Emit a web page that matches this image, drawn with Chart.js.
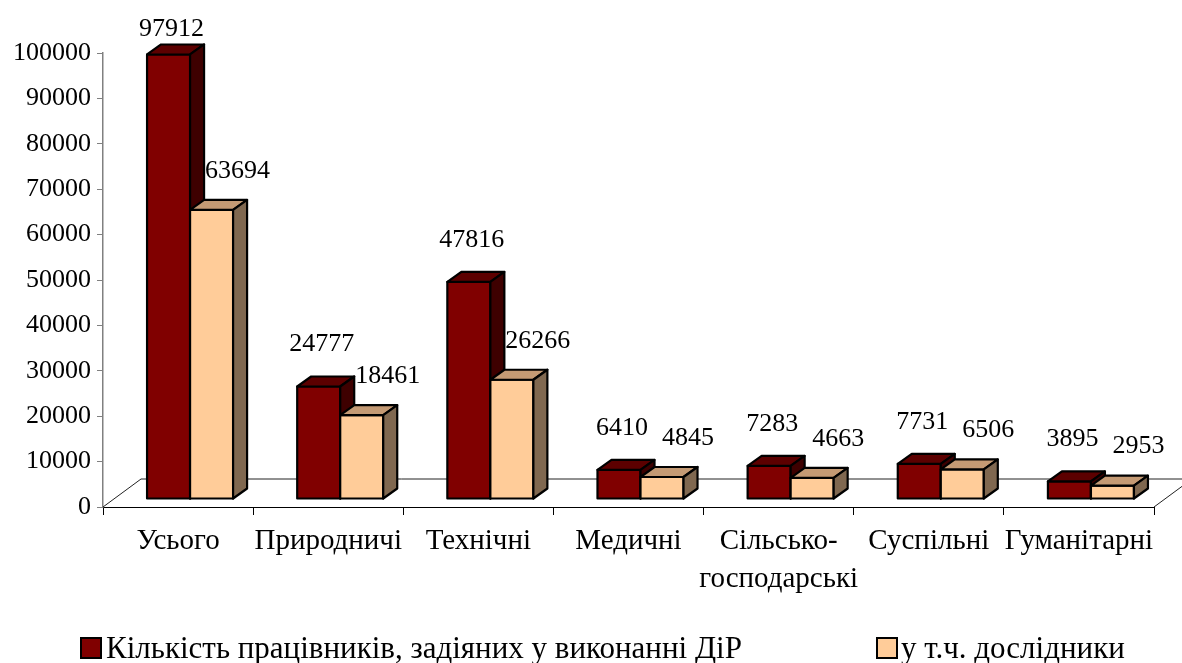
<!DOCTYPE html>
<html>
<head>
<meta charset="utf-8">
<script src="https://cdn.jsdelivr.net/npm/chart.js@4.4.1/dist/chart.umd.min.js"></script>
<style>
  body{margin:0;background:#fff;}
  #wrap{width:1182px;height:663px;}
</style>
</head>
<body>
<div id="wrap"><canvas id="chart" width="1182" height="663"></canvas></div>
<script>
const categories = ["Усього","Природничі","Технічні","Медичні",["Сільсько-","господарські"],"Суспільні","Гуманітарні"];
const workers = [97912,24777,47816,6410,7283,7731,3895];
const researchers = [63694,18461,26266,4845,4663,6506,2953];
const seriesNames = ["Кількість працівників, задіяних у виконанні ДіР","у т.ч. дослідники"];
const yTicks = {min:0,max:100000,step:10000};

const FONT = '"Liberation Serif", "Times New Roman", serif';
// кольори граней: фронт, верх, бік
const faces = [
  {front:"#800000",top:"#5c0000",side:"#3e0000"},
  {front:"#ffcc99",top:"#c49a74",side:"#806850"}
];
const shift = {x:12,y:-8};   // зсув передньої грані стовпця від підлоги
const depth = {x:14,y:-10};  // глибина стовпця
const floor = {x:38,y:-28};  // глибина підлоги

function box(ctx,x0,x1,yTop,yBot,f){
  ctx.lineWidth=2.2; ctx.strokeStyle="#000"; ctx.lineJoin="round";
  ctx.fillStyle=f.front;
  ctx.beginPath(); ctx.rect(x0,yTop,x1-x0,yBot-yTop); ctx.fill(); ctx.stroke();
  ctx.fillStyle=f.top;
  ctx.beginPath();
  ctx.moveTo(x0,yTop); ctx.lineTo(x1,yTop); ctx.lineTo(x1+depth.x,yTop+depth.y); ctx.lineTo(x0+depth.x,yTop+depth.y);
  ctx.closePath(); ctx.fill(); ctx.stroke();
  ctx.fillStyle=f.side;
  ctx.beginPath();
  ctx.moveTo(x1,yTop); ctx.lineTo(x1+depth.x,yTop+depth.y); ctx.lineTo(x1+depth.x,yBot+depth.y); ctx.lineTo(x1,yBot);
  ctx.closePath(); ctx.fill(); ctx.stroke();
}

const bars3d = {
  id:"bars3d",
  beforeDatasetsDraw(chart){
    const {ctx,chartArea:a} = chart;
    ctx.save();
    ctx.strokeStyle="#222"; ctx.lineWidth=1;
    ctx.beginPath();
    ctx.moveTo(a.left,a.bottom); ctx.lineTo(a.left+floor.x,a.bottom+floor.y);
    ctx.lineTo(a.right+floor.x,a.bottom+floor.y);
    ctx.moveTo(a.right,a.bottom); ctx.lineTo(a.right+floor.x,a.bottom+floor.y);
    ctx.stroke();
    ctx.restore();
  },
  afterDatasetsDraw(chart){
    const {ctx} = chart;
    const m0 = chart.getDatasetMeta(0).data, m1 = chart.getDatasetMeta(1).data;
    ctx.save();
    for(let i=0;i<m0.length;i++){
      [m0[i],m1[i]].forEach((el,d)=>{
        const x0 = el.x-el.width/2+shift.x, x1 = el.x+el.width/2+shift.x;
        box(ctx,x0,x1,el.y+shift.y,el.base+shift.y,faces[d]);
      });
    }
    // підписи значень
    ctx.fillStyle="#000"; ctx.font="26px "+FONT; ctx.textAlign="center"; ctx.textBaseline="middle";
    const off = [{x:3,y:42},{x:26,y:39}];
    chart.data.datasets.forEach((ds,d)=>{
      chart.getDatasetMeta(d).data.forEach((el,i)=>{
        const cx = el.x+shift.x+off[d].x;
        const cy = Math.max(29, el.y+shift.y-off[d].y);
        ctx.fillText(String(ds.data[i]),cx,cy);
      });
    });
    ctx.restore();
  },
  afterDraw(chart){
    const {ctx} = chart;
    ctx.save();
    const items = [{bx:81,tx:106},{bx:877,tx:901}];
    ctx.font="31px "+FONT; ctx.textBaseline="alphabetic"; ctx.textAlign="left";
    items.forEach((it,d)=>{
      ctx.fillStyle=faces[d].front; ctx.strokeStyle="#000"; ctx.lineWidth=2;
      ctx.beginPath(); ctx.rect(it.bx,638,20,20); ctx.fill(); ctx.stroke();
      ctx.fillStyle="#000";
      ctx.fillText(seriesNames[d],it.tx,658);
    });
    ctx.restore();
  }
};

Chart.defaults.font.family = FONT;
Chart.defaults.color = "#000";

function draw(){
  new Chart(document.getElementById("chart"),{
    type:"bar",
    data:{
      labels:categories,
      datasets:[
        {label:seriesNames[0],data:workers,backgroundColor:"rgba(0,0,0,0)",borderWidth:0,categoryPercentage:0.573,barPercentage:1},
        {label:seriesNames[1],data:researchers,backgroundColor:"rgba(0,0,0,0)",borderWidth:0,categoryPercentage:0.573,barPercentage:1}
      ]
    },
    options:{
      responsive:false,
      animation:false,
      devicePixelRatio:1,
      layout:{padding:{top:53,right:28,bottom:0,left:0}},
      plugins:{legend:{display:false},tooltip:{enabled:false}},
      scales:{
        x:{
          offset:true,
          grid:{drawOnChartArea:false,offset:true,tickLength:8,color:"#000",tickColor:"#000"},
          border:{color:"#000",width:1},
          ticks:{font:{size:29,lineHeight:1.32},padding:7,maxRotation:0,autoSkip:false},
          afterFit(s){ s.height = 156; }
        },
        y:{
          min:yTicks.min,max:yTicks.max,
          grid:{drawOnChartArea:false,tickLength:6,color:"#808080",tickColor:"#808080"},
          border:{color:"#808080",width:1.5},
          ticks:{stepSize:yTicks.step,font:{size:26},padding:6,callback:v=>String(v)},
          afterFit(s){ s.width = 103; }
        }
      }
    },
    plugins:[bars3d]
  });
}

Promise.all([
  document.fonts.load('26px "Liberation Serif"','Кількість 0123'),
  document.fonts.load('31px "Liberation Serif"','Кількість')
]).then(draw, draw);
</script>
</body>
</html>
